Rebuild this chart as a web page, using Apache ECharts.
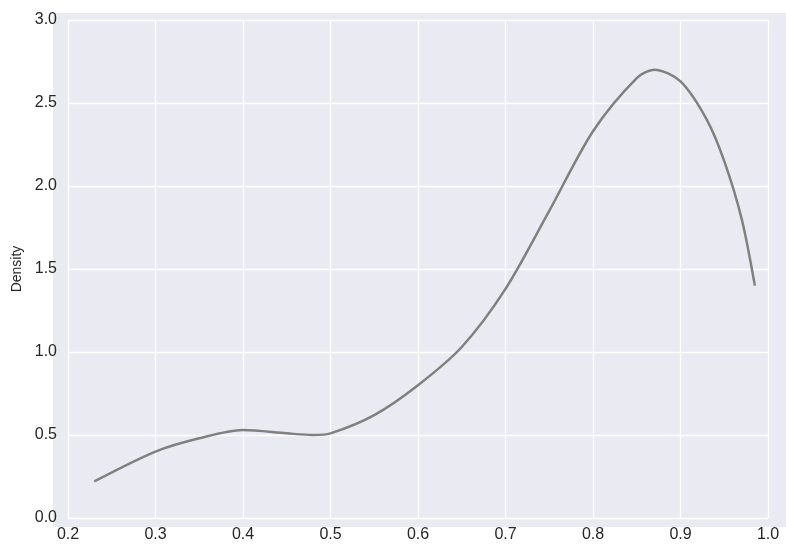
<!DOCTYPE html>
<html><head><meta charset="utf-8">
<script src="https://cdn.jsdelivr.net/npm/echarts@6/dist/echarts.min.js"></script>
<style>html,body{margin:0;padding:0;background:#fff}#c{width:786px;height:550px}</style>
</head><body><div id="c"></div>
<script>
// density curve
const xs = [0.23, 0.3, 0.35, 0.4, 0.45, 0.48, 0.5, 0.55, 0.6, 0.65, 0.7, 0.75, 0.8, 0.85, 0.87, 0.9, 0.93, 0.95, 0.97, 0.985];
const ys = [0.22, 0.40, 0.48, 0.53, 0.51, 0.50, 0.51, 0.62, 0.80, 1.03, 1.38, 1.85, 2.33, 2.65, 2.70, 2.63, 2.40, 2.15, 1.80, 1.40];

const chart = echarts.init(document.getElementById('c'));
chart.setOption({
  animation: false,
  graphic: [{type: 'rect', z: -10, shape: {x: 53, y: 13, width: 733, height: 514}, style: {fill: '#eaeaf2'}}],
  grid: {left: 68, right: 18, top: 20, bottom: 32},
  xAxis: {
    type: 'value', min: 0.2, max: 1.0, interval: 0.1,
    axisLine: {show: false}, axisTick: {show: false},
    axisLabel: {color: '#262626', fontSize: 16, fontFamily: 'Liberation Sans', margin: 9, formatter: v => v.toFixed(1)},
    splitLine: {lineStyle: {color: '#fff', width: 1.3}}
  },
  yAxis: {
    type: 'value', min: 0, max: 3.0, interval: 0.5,
    name: 'Density', nameLocation: 'middle', nameGap: 44,
    nameTextStyle: {color: '#262626', fontSize: 14, fontFamily: 'Liberation Sans'},
    axisLine: {show: false}, axisTick: {show: false},
    axisLabel: {color: '#262626', fontSize: 16, fontFamily: 'Liberation Sans', margin: 11, formatter: v => v.toFixed(1)},
    splitLine: {lineStyle: {color: '#fff', width: 1.3}}
  },
  series: [{
    type: 'line', smooth: 0.3, showSymbol: false,
    data: xs.map((x, i) => [x, ys[i]]),
    lineStyle: {color: '#808080', width: 2.5}
  }]
});
</script></body></html>
